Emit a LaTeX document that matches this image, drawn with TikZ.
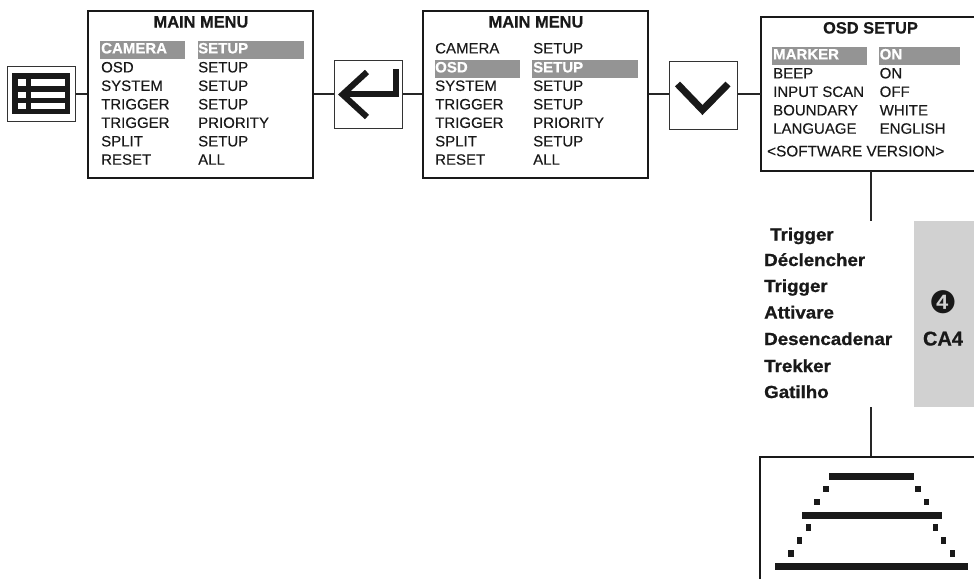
\documentclass[tikz,border=0pt]{standalone}
\usepackage{fontspec}
\setmainfont{Liberation Sans}[FakeBold=0.25]
\newfontfamily\symfont{DejaVu Sans}
\newfontfamily\boldface{Liberation Sans Bold}[FakeBold=0.6]
\newfontfamily\heavyfont{Liberation Sans Bold}[FakeBold=1,FakeStretch=1.07]
\begin{document}
\begin{tikzpicture}[x=1pt,y=-1pt,
  txt/.style={anchor=base west,inner sep=0pt,font=\fontsize{15}{16}\selectfont,text=black!90,yshift=0.6pt},
  hltxt/.style={anchor=base west,inner sep=0pt,font=\boldface\fontsize{15}{16}\selectfont,text=white,yshift=0.6pt},
  ttl/.style={anchor=base,inner sep=0pt,font=\boldface\fontsize{16.4}{18}\selectfont,text=black!90},
  lang/.style={anchor=base west,inner sep=0pt,font=\heavyfont\fontsize{17.5}{19}\selectfont,text=black!90},
  hl/.style={fill=black!42,draw=none},
  frame/.style={draw=black!90,line width=2pt},
  iconbox/.style={draw=black!80,line width=1pt,fill=white},
  conn/.style={draw=black!85,line width=2pt},
  bar/.style={fill=black!90,draw=none},
  glyph/.style={draw=black!90,line width=6pt}]
\useasboundingbox (0,0) rectangle (974,579);
\node[iconbox,minimum width=68pt,minimum height=55pt,inner sep=0pt] (iconmenu) at (41,94) {};
\node[frame,minimum width=225pt,minimum height=167pt,inner sep=0pt] (menuA) at (200.7,94) {};
\node[iconbox,minimum width=68pt,minimum height=68pt,inner sep=0pt] (iconenter) at (368.5,94.5) {};
\node[frame,minimum width=225pt,minimum height=167pt,inner sep=0pt] (menuB) at (535.7,94) {};
\node[iconbox,minimum width=68pt,minimum height=68pt,inner sep=0pt] (icondown) at (703,95) {};
\coordinate (osdNW) at (761,17);
\coordinate (osdSW) at (761,171);
\coordinate (osdW) at (761,94);
\coordinate (osdNE) at (974,17);
\coordinate (osdSE) at (974,171);
\draw[frame] (osdNE) -- (osdNW) -- (osdSW) -- (osdSE);
\draw[conn] (iconmenu.east) -- (menuA.west |- iconmenu.east);
\draw[conn] (menuA.east) -- (iconenter.west |- menuA.east);
\draw[conn] (iconenter.east |- menuB.west) -- (menuB.west);
\draw[conn] (menuB.east) -- (icondown.west |- menuB.east);
\draw[conn] (icondown.east |- osdW) -- (osdW);
\coordinate (osdB) at (870.5,171);
\coordinate (langT) at (870.5,221);
\coordinate (langB) at (870.5,407);
\coordinate (scrT) at (870.5,456);
\draw[conn] (osdB) -- (langT);
\draw[conn] (langB) -- (scrT);
% menu icon
\fill[black!90] (12,73) rectangle (70,114);
\fill[white] (17.5,79) rectangle (25.5,86);
\fill[white] (31,79) rectangle (64.5,86);
\fill[white] (17.5,92) rectangle (25.5,97.5);
\fill[white] (31,92) rectangle (64.5,97.5);
\fill[white] (17.5,103) rectangle (25.5,108.5);
\fill[white] (31,103) rectangle (64.5,108.5);
% enter icon
\draw[glyph,line join=miter] (396,69) -- (396,94) -- (343,94);
\draw[glyph,line join=miter] (367,72) -- (342.5,94.5) -- (367,117);
% down icon
\draw[black!90,line width=7pt,line join=miter] (677.5,84) -- (702.5,110) -- (728,84);
% first menu
\fill[hl] (100,41) rectangle (185,59);
\fill[hl] (198,41) rectangle (304,59);
\node[ttl] (t1) at (201,27.5) {MAIN MENU};
\node[hltxt] (a1) at (101,54) {CAMERA};
\node[hltxt] (b1) at (198,54) {SETUP};
\node[txt] (a2) at (101,73) {OSD};
\node[txt] (b2) at (198,73) {SETUP};
\node[txt] (a3) at (101,91.5) {SYSTEM};
\node[txt] (b3) at (198,91.5) {SETUP};
\node[txt] (a4) at (101,110) {TRIGGER};
\node[txt] (b4) at (198,110) {SETUP};
\node[txt] (a5) at (101,128.5) {TRIGGER};
\node[txt] (b5) at (198,128.5) {PRIORITY};
\node[txt] (a6) at (101,147) {SPLIT};
\node[txt] (b6) at (198,147) {SETUP};
\node[txt] (a7) at (101,165.3) {RESET};
\node[txt] (b7) at (198,165.3) {ALL};
% second menu
\fill[hl] (435,60) rectangle (520,78);
\fill[hl] (532,60) rectangle (638,78);
\node[ttl] (t2) at (536,27.5) {MAIN MENU};
\node[txt] (c1) at (435,54) {CAMERA};
\node[txt] (d1) at (533,54) {SETUP};
\node[hltxt] (c2) at (435,73) {OSD};
\node[hltxt] (d2) at (533,73) {SETUP};
\node[txt] (c3) at (435,91.5) {SYSTEM};
\node[txt] (d3) at (533,91.5) {SETUP};
\node[txt] (c4) at (435,110) {TRIGGER};
\node[txt] (d4) at (533,110) {SETUP};
\node[txt] (c5) at (435,128.5) {TRIGGER};
\node[txt] (d5) at (533,128.5) {PRIORITY};
\node[txt] (c6) at (435,147) {SPLIT};
\node[txt] (d6) at (533,147) {SETUP};
\node[txt] (c7) at (435,165.3) {RESET};
\node[txt] (d7) at (533,165.3) {ALL};
% OSD setup
\fill[hl] (772,47) rectangle (867,65);
\fill[hl] (879,47) rectangle (960,65);
\node[ttl] (t3) at (870.5,33.5) {OSD SETUP};
\node[hltxt] (e1) at (773,60) {MARKER};
\node[hltxt] (f1) at (879.5,60) {ON};
\node[txt] (e2) at (773,79) {BEEP};
\node[txt] (f2) at (879.5,79) {ON};
\node[txt] (e3) at (773,97.5) {INPUT SCAN};
\node[txt] (f3) at (879.5,97.5) {OFF};
\node[txt] (e4) at (773,116) {BOUNDARY};
\node[txt] (f4) at (879.5,116) {WHITE};
\node[txt] (e5) at (773,134.3) {LANGUAGE};
\node[txt] (f5) at (879.5,134.3) {ENGLISH};
\node[txt,font=\fontsize{15.3}{16}\selectfont] (sw) at (767,157) {<SOFTWARE VERSION>};
% languages
\node[lang] (l1) at (770,240.5) {Trigger};
\node[lang] (l2) at (764,266) {Déclencher};
\node[lang] (l3) at (764,292) {Trigger};
\node[lang] (l4) at (764,318.5) {Attivare};
\node[lang] (l5) at (764,345) {Desencadenar};
\node[lang] (l6) at (764,372) {Trekker};
\node[lang] (l7) at (764,398) {Gatilho};
% grey tab
\fill[black!18] (914,221) rectangle (974,407);
\node[inner sep=0pt,font=\symfont\fontsize{31}{32}\selectfont,text=black!90] (num) at (943,302) {❹};
\node[anchor=base,inner sep=0pt,font=\boldface\fontsize{20}{22}\selectfont,text=black!90] (ca) at (943,345.5) {CA4};
% screen
\draw[frame] (760,579) -- (760,456.5) -- (974,456.5);
\fill[bar] (829,473) rectangle (914,480);
\fill[bar] (802,512) rectangle (942,519);
\fill[bar] (775,563) rectangle (968,570);
\foreach \px/\py in {826/489,918/489,817/502,926.7/502,808.3/527.7,935.3/527.7,799.7/540.7,943.7/540.7,791/553.7,952.3/553.7}{
  \fill[bar] (\px-2.6,\py-3.3) rectangle (\px+2.6,\py+3.3);
}
\end{tikzpicture}
\end{document}
